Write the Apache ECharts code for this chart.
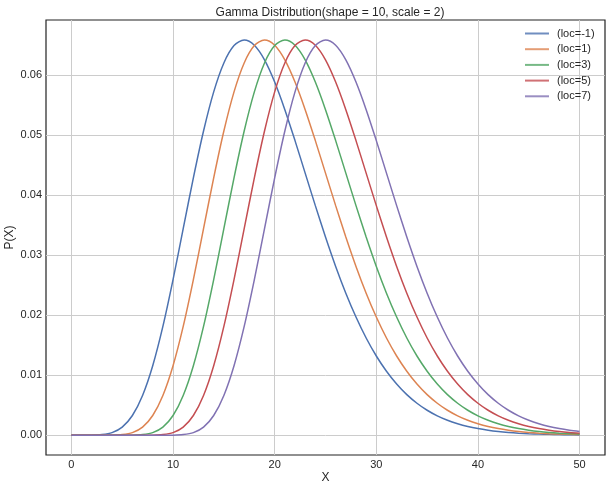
<!DOCTYPE html>
<html>
<head>
<meta charset="utf-8">
<script src="https://cdn.jsdelivr.net/npm/echarts@6/dist/echarts.min.js"></script>
<style>
  html, body { margin: 0; padding: 0; background: #fff; }
  #chart { width: 611px; height: 490px; }
</style>
</head>
<body>
<div id="chart"></div>
<script>
// x positions (0..50)
const xValues = [0,1,2,3,4,5,6,7,8,9,10,11,12,13,14,15,16,17,18,19,20,21,22,23,24,25,26,27,28,29,30,31,32,33,34,35,36,37,38,39,40,41,42,43,44,45,46,47,48,49,50]

// P(X), one array per loc
const locM1 = [0.00000,0.00000,0.00001,0.00010,0.00043,0.00135,0.00328,0.00662,0.01158,0.01813,0.02593,0.03442,0.04290,0.05070,0.05722,0.06204,0.06493,0.06587,0.06500,0.06256,0.05886,0.05426,0.04910,0.04368,0.03826,0.03303,0.02813,0.02367,0.01969,0.01620,0.01320,0.01066,0.00853,0.00676,0.00533,0.00416,0.00323,0.00249,0.00191,0.00145,0.00110,0.00083,0.00062,0.00046,0.00034,0.00025,0.00019,0.00014,0.00010,0.00007,0.00005]
const loc1 = [0,0,0.00000,0.00000,0.00001,0.00010,0.00043,0.00135,0.00328,0.00662,0.01158,0.01813,0.02593,0.03442,0.04290,0.05070,0.05722,0.06204,0.06493,0.06587,0.06500,0.06256,0.05886,0.05426,0.04910,0.04368,0.03826,0.03303,0.02813,0.02367,0.01969,0.01620,0.01320,0.01066,0.00853,0.00676,0.00533,0.00416,0.00323,0.00249,0.00191,0.00145,0.00110,0.00083,0.00062,0.00046,0.00034,0.00025,0.00019,0.00014,0.00010]
const loc3 = [0,0,0,0,0.00000,0.00000,0.00001,0.00010,0.00043,0.00135,0.00328,0.00662,0.01158,0.01813,0.02593,0.03442,0.04290,0.05070,0.05722,0.06204,0.06493,0.06587,0.06500,0.06256,0.05886,0.05426,0.04910,0.04368,0.03826,0.03303,0.02813,0.02367,0.01969,0.01620,0.01320,0.01066,0.00853,0.00676,0.00533,0.00416,0.00323,0.00249,0.00191,0.00145,0.00110,0.00083,0.00062,0.00046,0.00034,0.00025,0.00019]
const loc5 = [0,0,0,0,0,0,0.00000,0.00000,0.00001,0.00010,0.00043,0.00135,0.00328,0.00662,0.01158,0.01813,0.02593,0.03442,0.04290,0.05070,0.05722,0.06204,0.06493,0.06587,0.06500,0.06256,0.05886,0.05426,0.04910,0.04368,0.03826,0.03303,0.02813,0.02367,0.01969,0.01620,0.01320,0.01066,0.00853,0.00676,0.00533,0.00416,0.00323,0.00249,0.00191,0.00145,0.00110,0.00083,0.00062,0.00046,0.00034]
const loc7 = [0,0,0,0,0,0,0,0,0.00000,0.00000,0.00001,0.00010,0.00043,0.00135,0.00328,0.00662,0.01158,0.01813,0.02593,0.03442,0.04290,0.05070,0.05722,0.06204,0.06493,0.06587,0.06500,0.06256,0.05886,0.05426,0.04910,0.04368,0.03826,0.03303,0.02813,0.02367,0.01969,0.01620,0.01320,0.01066,0.00853,0.00676,0.00533,0.00416,0.00323,0.00249,0.00191,0.00145,0.00110,0.00083,0.00062]

const seriesNames = ['(loc=-1)', '(loc=1)', '(loc=3)', '(loc=5)', '(loc=7)']
const seriesData = [locM1, loc1, loc3, loc5, loc7]
const colors = ['#4c72b0', '#dd8452', '#55a868', '#c44e52', '#8172b3']

const font = 'Liberation Sans, Arial, sans-serif'
const chart = echarts.init(document.getElementById('chart'))

chart.setOption({
  animation: false,
  color: colors,
  title: {
    text: 'Gamma Distribution(shape = 10, scale = 2)',
    left: 325,
    textAlign: 'center',
    top: 2,
    textStyle: { fontFamily: font, fontSize: 12, fontWeight: 'normal', color: '#262626' }
  },
  legend: {
    orient: 'vertical',
    left: 525,
    top: 27,
    padding: 0,
    icon: 'rect',
    itemWidth: 24,
    itemHeight: 2,
    itemGap: 2.7,
    itemStyle: { opacity: 0.8 },
    textStyle: { fontFamily: font, fontSize: 11, color: '#262626', lineHeight: 13, padding: [0, 0, 0, 3] },
    data: seriesNames
  },
  grid: {
    left: 46, right: 6, top: 20, bottom: 35,
    outerBoundsMode: 'none',
    containLabel: false,
    show: true,
    borderColor: '#222',
    borderWidth: 1.2,
    backgroundColor: 'transparent'
  },
  xAxis: {
    type: 'value',
    min: -2.5,
    max: 52.5,
    name: 'X',
    nameLocation: 'middle',
    nameMoveOverlap: false,
    nameGap: 17,
    nameTextStyle: { fontFamily: font, fontSize: 12, color: '#262626' },
    axisLine: { show: false },
    axisTick: { show: false },
    axisLabel: {
      showMinLabel: false, showMaxLabel: false,
      fontFamily: font, fontSize: 11, color: '#262626', margin: 4
    },
    splitLine: { show: true, showMinLine: false, showMaxLine: false, lineStyle: { color: '#cccccc', width: 1 } }
  },
  yAxis: {
    type: 'value',
    min: -0.0033,
    max: 0.0692,
    name: 'P(X)',
    nameLocation: 'middle',
    nameMoveOverlap: false,
    nameGap: 30,
    nameTextStyle: { fontFamily: font, fontSize: 12, color: '#262626' },
    axisLine: { show: false },
    axisTick: { show: false },
    axisLabel: {
      showMinLabel: false, showMaxLabel: false,
      fontFamily: font, fontSize: 11, color: '#262626', margin: 4,
      formatter: v => v.toFixed(2)
    },
    splitLine: { show: true, showMinLine: false, showMaxLine: false, lineStyle: { color: '#cccccc', width: 1 } }
  },
  series: seriesNames.map((name, i) => ({
    name: name,
    type: 'line',
    smooth: 0.3,
    symbol: 'none',
    lineStyle: { width: 1.5 },
    data: xValues.map((x, j) => [x, seriesData[i][j]])
  }))
})
</script>
</body>
</html>
